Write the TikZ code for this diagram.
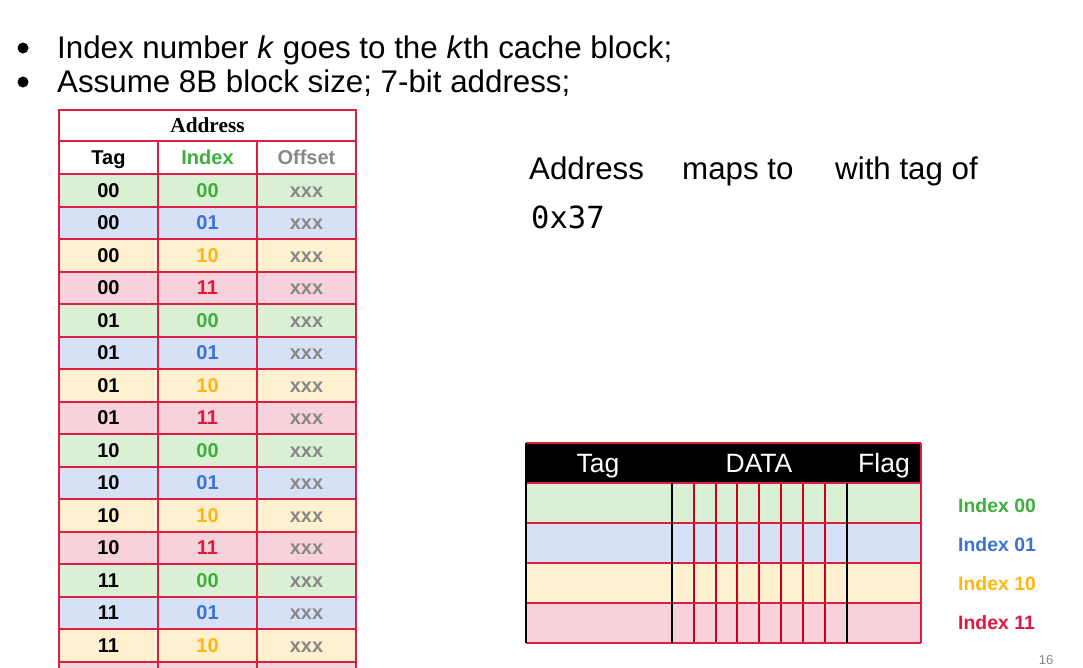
\documentclass[tikz,border=0pt]{standalone}
\usepackage{fontspec}
\setmainfont{Liberation Sans}
\newfontfamily\serifb{Liberation Serif}
\setmonofont{DejaVu Sans Mono}
\definecolor{crim}{HTML}{DC1E46}
\definecolor{dred}{HTML}{CC0018}
\definecolor{fill0}{HTML}{D9F0D4}
\definecolor{fill1}{HTML}{D7E1F5}
\definecolor{fill2}{HTML}{FFF0D0}
\definecolor{fill3}{HTML}{F7D2DA}
\definecolor{txt0}{HTML}{3BB03B}
\definecolor{txt1}{HTML}{3A72D6}
\definecolor{txt2}{HTML}{FFB70F}
\definecolor{txt3}{HTML}{E0183F}
\definecolor{graytxt}{HTML}{888888}
\begin{document}
\begin{tikzpicture}[x=1pt,y=-1pt,
  big/.style={inner sep=0pt,anchor=base west,font=\fontsize{31.3}{31}\selectfont},
  acell/.style={draw=crim,line width=2pt,inner sep=0pt,minimum width=99pt,minimum height=32.5pt,
    text height=14.3pt,text depth=0pt,font=\bfseries\fontsize{20}{20}\selectfont},
  ccell/.style={inner sep=0pt,minimum height=40pt},
  hdr/.style={inner sep=0pt,text=white,font=\fontsize{26.5}{26}\selectfont,text height=19pt,text depth=0pt},
  legend/.style={inner sep=0pt,anchor=base west,font=\bfseries\fontsize{19.4}{19}\selectfont},
  dot/.style={circle,fill=black,inner sep=0pt,minimum size=11pt},
  redline/.style={draw=crim,line width=2pt},
  blackline/.style={draw=black,line width=2pt},
  dline/.style={draw=dred,line width=2pt}
]
\useasboundingbox (0,0) rectangle (1083,667);
\clip (0,0) rectangle (1083,667);
\fill[white] (0,0) rectangle (1083,667);

% bullets
\node[dot] (b1) at (23,48) {};
\node[dot] (b2) at (23,82) {};
\node[big] (t1) at (57,58) {Index number \textit{k} goes to the \textit{k}th cache block;};
\node[big] (t2) at (57,92) {Assume 8B block size; 7-bit address;};

% address table
\node[acell,minimum width=297pt,minimum height=31pt,text height=14pt,font=\serifb\bfseries\fontsize{21.3}{21}\selectfont] (addr) at (207.5,125.5) {Address};
\node[acell,minimum height=33pt] (htag) at (108.5,157.5) {Tag};
\node[acell,minimum height=33pt,text=txt0] (hidx) at (207.5,157.5) {Index};
\node[acell,minimum height=33pt,text=graytxt] (hoff) at (306.5,157.5) {Offset};
\foreach \t/\ix [count=\i from 0] in {00/00,00/01,00/10,00/11,01/00,01/01,01/10,01/11,10/00,10/01,10/10,10/11,11/00,11/01,11/10} {
  \pgfmathtruncatemacro\kk{mod(\i,4)}
  \pgfmathsetmacro\yc{190.25+32.5*\i}
  \node[acell,fill=fill\kk] (a\i-tag) at (108.5,\yc) {\t};
  \node[acell,fill=fill\kk,text=txt\kk] (a\i-idx) at (207.5,\yc) {\ix};
  \node[acell,fill=fill\kk,text=graytxt] (a\i-off) at (306.5,\yc) {xxx};
}
\node[acell,fill=fill3] (a15-tag) at (108.5,677.75) {};
\node[acell,fill=fill3] (a15-idx) at (207.5,677.75) {};
\node[acell,fill=fill3] (a15-off) at (306.5,677.75) {};

% sentence
\node[big] (s1) at (529,179) {Address};
\node[big] (s2) at (682,179) {maps to};
\node[big] (s3) at (835,179) {with tag of};
\node[big,font=\ttfamily\fontsize{30.5}{30}\selectfont] (s4) at (531,228) {0x37};

% cache table
\node[fill=black,inner sep=0pt,minimum width=395pt,minimum height=40pt] (chead) at (723.5,463) {};
\node[hdr] (htag2) at (598,463) {Tag};
\node[hdr] (hdata) at (759,463) {DATA};
\node[hdr] (hflag) at (884,463) {Flag};
\foreach \r in {0,1,2,3} {
  \pgfmathsetmacro\yc{503+40*\r}
  \node[ccell,fill=fill\r,minimum width=146pt] (c\r-tag) at (599,\yc) {};
  \foreach \j in {0,...,7} {
    \pgfmathsetmacro\xc{672+21.875*\j+10.9375}
    \node[ccell,fill=fill\r,minimum width=21.875pt] (c\r-d\j) at (\xc,\yc) {};
  }
  \node[ccell,fill=fill\r,minimum width=74pt] (c\r-flag) at (884,\yc) {};
}
% grid lines
\draw[redline] (chead.north west) -- (chead.north east);
\foreach \j in {1,...,7} {
  \draw[dline] (c0-d\j.north west) -- (c3-d\j.south west);
}
\foreach \r in {0,1,2,3} {
  \draw[redline] (c\r-tag.south west) -- (c\r-flag.south east);
}
\draw[redline] (c0-tag.north west) -- (c0-flag.north east);
\draw[blackline] (chead.north west) -- (c3-tag.south west);
\draw[blackline] (c0-tag.north east) -- (c3-tag.south east);
\draw[blackline] (c0-flag.north west) -- (c3-flag.south west);
\draw[redline] (chead.north east) -- (c3-flag.south east);

% legend
\node[legend,text=txt0] (l0) at (958,512) {Index 00};
\node[legend,text=txt1] (l1) at (958,551) {Index 01};
\node[legend,text=txt2] (l2) at (958,590) {Index 10};
\node[legend,text=txt3] (l3) at (958,629) {Index 11};

\node[inner sep=0pt,text=graytxt,font=\fontsize{13}{13}\selectfont] (pg) at (1046,660) {16};
\end{tikzpicture}
\end{document}
